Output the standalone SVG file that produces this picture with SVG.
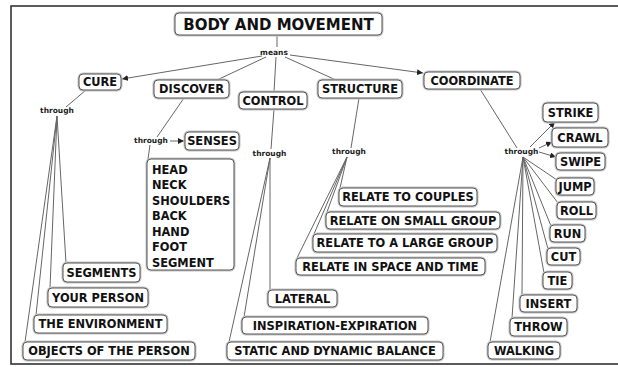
<svg xmlns="http://www.w3.org/2000/svg" width="618" height="367" viewBox="0 0 618 367">
<style>
.halo{fill:none;stroke:#c4c4c4;stroke-width:3}
.box{fill:#fff;stroke:#555;stroke-width:1}
.t{font-family:"DejaVu Sans",Verdana,sans-serif;font-weight:bold;font-size:11.4px;fill:#111;text-anchor:middle}
.l{text-anchor:start}
.s{font-family:"DejaVu Sans",Verdana,sans-serif;font-weight:bold;font-size:7.5px;fill:#222;text-anchor:middle}
.c line{stroke:#666;stroke-width:1}
.a{marker-end:url(#arr)}
</style>
<defs>
<marker id="arr" markerUnits="userSpaceOnUse" markerWidth="7" markerHeight="6" refX="6" refY="3" orient="auto">
<path d="M0,0 L6,3 L0,6 z" fill="#222"/>
</marker>
</defs>
<rect x="0" y="0" width="618" height="367" fill="#fff"/>
<rect x="11" y="6" width="620" height="358" fill="none" stroke="#333" stroke-width="1.6"/>

<g id="connectors" class="c">
<line x1="277" y1="35" x2="277" y2="47"/>
<line x1="262" y1="56" x2="122" y2="79" class="a"/>
<line x1="266" y1="57" x2="217" y2="80"/>
<line x1="276" y1="57" x2="274" y2="92"/>
<line x1="285" y1="57" x2="336" y2="80"/>
<line x1="290" y1="55" x2="423" y2="73" class="a"/>
<line x1="86" y1="90" x2="66" y2="107"/>
<line x1="57" y1="116" x2="66" y2="263"/>
<line x1="57" y1="116" x2="50" y2="288"/>
<line x1="57" y1="116" x2="36" y2="315"/>
<line x1="57" y1="116" x2="25" y2="342"/>
<line x1="184" y1="98" x2="157" y2="137"/>
<line x1="170" y1="141" x2="184" y2="141" class="a"/>
<line x1="150" y1="145" x2="148" y2="159"/>
<line x1="274" y1="109" x2="271" y2="149"/>
<line x1="270" y1="158" x2="270" y2="290"/>
<line x1="270" y1="158" x2="244" y2="317"/>
<line x1="270" y1="158" x2="229" y2="342"/>
<line x1="359" y1="98" x2="351" y2="148"/>
<line x1="347" y1="157" x2="340" y2="188"/>
<line x1="347" y1="157" x2="327" y2="212"/>
<line x1="347" y1="157" x2="314" y2="234"/>
<line x1="347" y1="157" x2="297" y2="258"/>
<line x1="480" y1="89" x2="517" y2="148"/>
<line x1="530" y1="147" x2="555" y2="122" class="a"/>
<line x1="539" y1="148" x2="552" y2="142" class="a"/>
<line x1="539" y1="152" x2="556" y2="157" class="a"/>
<line x1="523" y1="157" x2="557" y2="180"/>
<line x1="523" y1="157" x2="558" y2="203"/>
<line x1="523" y1="157" x2="551" y2="226"/>
<line x1="523" y1="157" x2="548" y2="249"/>
<line x1="523" y1="157" x2="544" y2="273"/>
<line x1="523" y1="157" x2="522" y2="295"/>
<line x1="523" y1="157" x2="512" y2="318"/>
<line x1="523" y1="157" x2="490" y2="342"/>
</g>

<g id="phrases">
<text class="s" x="274" y="55">means</text>
<text class="s" x="57" y="113">through</text>
<text class="s" x="151" y="143">through</text>
<text class="s" x="269.5" y="156">through</text>
<text class="s" x="349" y="154">through</text>
<text class="s" x="521.5" y="154">through</text>
</g>

<g id="n-title"><rect class="halo" x="175" y="13" width="207" height="22" rx="4"/><rect class="box" x="175" y="13" width="207" height="22" rx="4"/><text class="t" x="278.5" y="29.5" style="font-size:15px">BODY AND MOVEMENT</text></g>
<g id="n-cure"><rect class="halo" x="79" y="74" width="42" height="16" rx="4"/><rect class="box" x="79" y="74" width="42" height="16" rx="4"/><text class="t" x="100" y="86.2">CURE</text></g>
<g id="n-discover"><rect class="halo" x="154" y="80" width="75" height="18" rx="4"/><rect class="box" x="154" y="80" width="75" height="18" rx="4"/><text class="t" x="191.5" y="93.2">DISCOVER</text></g>
<g id="n-control"><rect class="halo" x="239" y="92" width="68" height="17" rx="4"/><rect class="box" x="239" y="92" width="68" height="17" rx="4"/><text class="t" x="273" y="104.7">CONTROL</text></g>
<g id="n-structure"><rect class="halo" x="318" y="80" width="84" height="18" rx="4"/><rect class="box" x="318" y="80" width="84" height="18" rx="4"/><text class="t" x="360" y="93.2">STRUCTURE</text></g>
<g id="n-coordinate"><rect class="halo" x="424" y="72" width="96" height="17" rx="4"/><rect class="box" x="424" y="72" width="96" height="17" rx="4"/><text class="t" x="472" y="84.7">COORDINATE</text></g>

<g id="n-strike"><rect class="halo" x="543" y="103" width="55" height="19" rx="4"/><rect class="box" x="543" y="103" width="55" height="19" rx="4"/><text class="t" x="570.5" y="116.7">STRIKE</text></g>
<g id="n-crawl"><rect class="halo" x="552" y="128" width="56" height="19" rx="4"/><rect class="box" x="552" y="128" width="56" height="19" rx="4"/><text class="t" x="580" y="141.7">CRAWL</text></g>
<g id="n-swipe"><rect class="halo" x="556" y="153" width="49" height="17" rx="4"/><rect class="box" x="556" y="153" width="49" height="17" rx="4"/><text class="t" x="580.5" y="165.7">SWIPE</text></g>
<g id="n-jump"><rect class="halo" x="556" y="178" width="38" height="17" rx="4"/><rect class="box" x="556" y="178" width="38" height="17" rx="4"/><text class="t" x="575" y="190.7">JUMP</text></g>
<g id="n-roll"><rect class="halo" x="557" y="202" width="39" height="17" rx="4"/><rect class="box" x="557" y="202" width="39" height="17" rx="4"/><text class="t" x="576.5" y="214.7">ROLL</text></g>
<g id="n-run"><rect class="halo" x="550" y="225" width="35" height="17" rx="4"/><rect class="box" x="550" y="225" width="35" height="17" rx="4"/><text class="t" x="567.5" y="237.7">RUN</text></g>
<g id="n-cut"><rect class="halo" x="547" y="248" width="33" height="17" rx="4"/><rect class="box" x="547" y="248" width="33" height="17" rx="4"/><text class="t" x="563.5" y="260.7">CUT</text></g>
<g id="n-tie"><rect class="halo" x="543" y="272" width="29" height="17" rx="4"/><rect class="box" x="543" y="272" width="29" height="17" rx="4"/><text class="t" x="557.5" y="284.7">TIE</text></g>
<g id="n-insert"><rect class="halo" x="520" y="295" width="57" height="17" rx="4"/><rect class="box" x="520" y="295" width="57" height="17" rx="4"/><text class="t" x="548.5" y="307.7">INSERT</text></g>
<g id="n-throw"><rect class="halo" x="510" y="318" width="57" height="18" rx="4"/><rect class="box" x="510" y="318" width="57" height="18" rx="4"/><text class="t" x="538.5" y="331.2">THROW</text></g>
<g id="n-walking"><rect class="halo" x="488" y="342" width="72" height="17" rx="4"/><rect class="box" x="488" y="342" width="72" height="17" rx="4"/><text class="t" x="524" y="354.7">WALKING</text></g>

<g id="n-senses"><rect class="halo" x="185" y="132" width="54" height="18" rx="4"/><rect class="box" x="185" y="132" width="54" height="18" rx="4"/><text class="t" x="212" y="145.2">SENSES</text></g>
<g id="n-parts"><rect class="halo" x="147" y="159" width="87" height="111" rx="4"/><rect class="box" x="147" y="159" width="87" height="111" rx="4"/>
<text class="t l" x="152" y="173.5">HEAD</text>
<text class="t l" x="152" y="189">NECK</text>
<text class="t l" x="152" y="204.5">SHOULDERS</text>
<text class="t l" x="152" y="220">BACK</text>
<text class="t l" x="152" y="235.5">HAND</text>
<text class="t l" x="152" y="251">FOOT</text>
<text class="t l" x="152" y="266.5">SEGMENT</text></g>

<g id="n-segments"><rect class="halo" x="63" y="263" width="77" height="19" rx="4"/><rect class="box" x="63" y="263" width="77" height="19" rx="4"/><text class="t" x="101.5" y="276.7">SEGMENTS</text></g>
<g id="n-yourperson"><rect class="halo" x="48" y="288" width="100" height="19" rx="4"/><rect class="box" x="48" y="288" width="100" height="19" rx="4"/><text class="t" x="98" y="301.7">YOUR PERSON</text></g>
<g id="n-environment"><rect class="halo" x="34" y="315" width="133" height="18" rx="4"/><rect class="box" x="34" y="315" width="133" height="18" rx="4"/><text class="t" x="100.5" y="328.2">THE ENVIRONMENT</text></g>
<g id="n-objects"><rect class="halo" x="23" y="342" width="172" height="18" rx="4"/><rect class="box" x="23" y="342" width="172" height="18" rx="4"/><text class="t" x="109" y="355.2">OBJECTS OF THE PERSON</text></g>

<g id="n-lateral"><rect class="halo" x="268" y="290" width="69" height="17" rx="4"/><rect class="box" x="268" y="290" width="69" height="17" rx="4"/><text class="t" x="302.5" y="302.7">LATERAL</text></g>
<g id="n-inspiration"><rect class="halo" x="242" y="317" width="186" height="17" rx="4"/><rect class="box" x="242" y="317" width="186" height="17" rx="4"/><text class="t" x="335" y="329.7">INSPIRATION-EXPIRATION</text></g>
<g id="n-balance"><rect class="halo" x="227" y="342" width="216" height="18" rx="4"/><rect class="box" x="227" y="342" width="216" height="18" rx="4"/><text class="t" x="335" y="355.2">STATIC AND DYNAMIC BALANCE</text></g>

<g id="n-couples"><rect class="halo" x="339" y="188" width="138" height="18" rx="4"/><rect class="box" x="339" y="188" width="138" height="18" rx="4"/><text class="t" x="408" y="201.2">RELATE TO COUPLES</text></g>
<g id="n-small"><rect class="halo" x="326" y="212" width="174" height="17" rx="4"/><rect class="box" x="326" y="212" width="174" height="17" rx="4"/><text class="t" x="413" y="224.7">RELATE ON SMALL GROUP</text></g>
<g id="n-large"><rect class="halo" x="313" y="234" width="184" height="18" rx="4"/><rect class="box" x="313" y="234" width="184" height="18" rx="4"/><text class="t" x="405" y="247.2">RELATE TO A LARGE GROUP</text></g>
<g id="n-space"><rect class="halo" x="296" y="258" width="189" height="17" rx="4"/><rect class="box" x="296" y="258" width="189" height="17" rx="4"/><text class="t" x="390.5" y="270.7">RELATE IN SPACE AND TIME</text></g>
</svg>
